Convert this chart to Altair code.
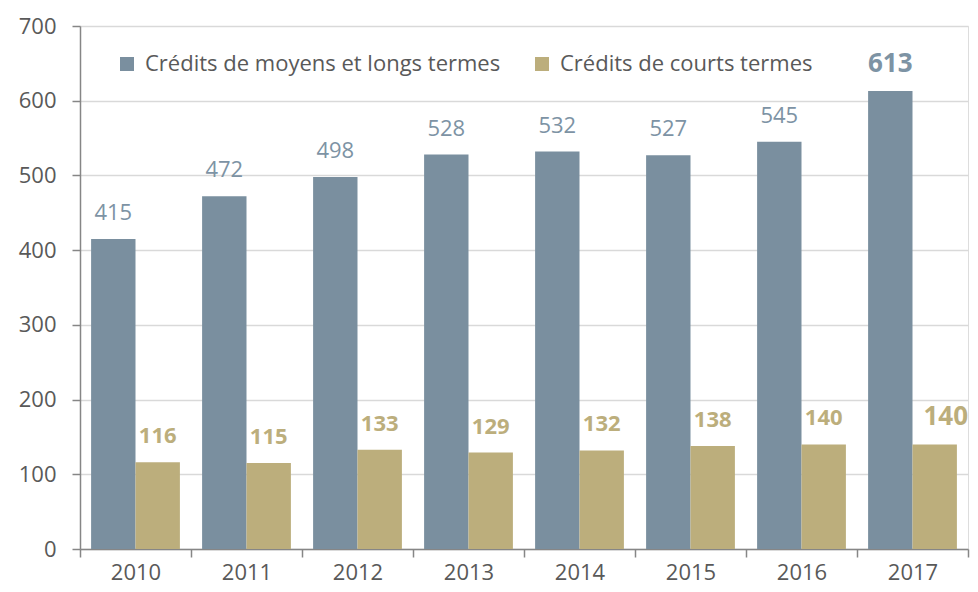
import altair as alt
import pandas as pd

years = ["2010", "2011", "2012", "2013", "2014", "2015", "2016", "2017"]
long_term = [415, 472, 498, 528, 532, 527, 545, 613]
short_term = [116, 115, 133, 129, 132, 138, 140, 140]
series_names = ["Crédits de moyens et longs termes", "Crédits de courts termes"]

rows = []
for y, a, b in zip(years, long_term, short_term):
    rows.append({"year": y, "series": series_names[0], "value": a})
    rows.append({"year": y, "series": series_names[1], "value": b})
df = pd.DataFrame(rows)

BLUE = "#7a8f9f"
BLUE_LBL = "#7d93a4"
GOLD = "#bcae7c"
GRAY = "#595959"
AXIS = "#868686"
FONT = "Open Sans"
FS = 22

x_enc = alt.X(
    "year:N",
    sort=years,
    scale=alt.Scale(paddingInner=0, paddingOuter=0),
    axis=alt.Axis(
        title=None, labelAngle=0, tickBand="extent", tickSize=8,
        labelFontSize=FS, labelColor=GRAY, labelPadding=5,
        domainColor=AXIS, tickColor=AXIS, domainWidth=1.5, tickWidth=1.5,
        grid=False, labelFont=FONT,
    ),
)
xo_enc = alt.XOffset(
    "series:N", sort=series_names,
    scale=alt.Scale(domain=series_names, paddingInner=0, paddingOuter=0.25),
)
y_enc = alt.Y(
    "value:Q",
    scale=alt.Scale(domain=[0, 700], nice=False),
    axis=alt.Axis(
        title=None, values=[0, 100, 200, 300, 400, 500, 600, 700],
        tickSize=8, labelFontSize=FS, labelColor=GRAY, labelPadding=16,
        domainColor=AXIS, tickColor=AXIS, domainWidth=1.5, tickWidth=1.5,
        gridColor="#d9d9d9", gridWidth=1.5, labelFont=FONT,
    ),
)

base = alt.Chart(df)

bars = base.mark_bar(size=44.4).encode(
    x=x_enc,
    xOffset=xo_enc,
    y=y_enc,
    color=alt.Color(
        "series:N",
        sort=series_names,
        scale=alt.Scale(domain=series_names, range=[BLUE, GOLD]),
        legend=alt.Legend(
            orient="none", legendX=36, legendY=27, direction="horizontal",
            title=None, symbolType="square", symbolSize=196,
            symbolStrokeWidth=0, labelFontSize=FS, labelColor=GRAY,
            labelFont=FONT, columnPadding=30, labelOffset=7, padding=0,
            labelLimit=0,
        ),
    ),
)

def labels(series, color, bold, size, dx, last):
    cond = "datum.year == '2017'" if last else "datum.year != '2017'"
    return base.transform_filter(
        f"datum.series == '{series}' && {cond}"
    ).mark_text(
        baseline="alphabetic", dy=-19, dx=dx, fontSize=size,
        fontWeight="bold" if bold else "normal", color=color, font=FONT,
    ).encode(
        x=alt.X("year:N", sort=years),
        xOffset=alt.XOffset("series:N", sort=series_names),
        y=alt.Y("value:Q"),
        text=alt.Text("value:Q"),
    )

chart = alt.layer(
    bars,
    labels(series_names[0], BLUE_LBL, False, FS, 0, False),
    labels(series_names[1], GOLD, True, FS, 0, False),
    labels(series_names[0], BLUE_LBL, True, 26, 0, True),
    labels(series_names[1], GOLD, True, 26, 11, True),
).properties(
    width=888, height=523,
    autosize=alt.AutoSizeParams(type="none"),
    padding={"left": 72, "top": 18, "right": 2, "bottom": 35},
).configure_view(stroke=None).configure(font=FONT)

chart.save("out.html", embed_options={"renderer": "svg", "actions": False})
